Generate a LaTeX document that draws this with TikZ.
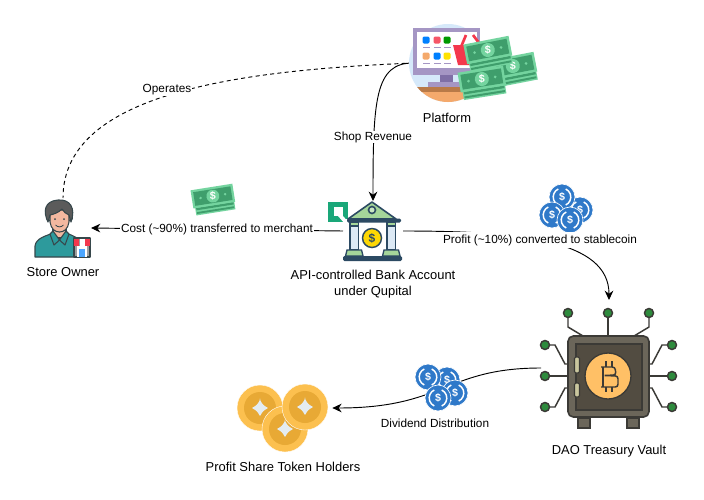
\documentclass[tikz,border=0pt]{standalone}
\usepackage{fontspec}
\setmainfont{Liberation Sans}
\usetikzlibrary{arrows.meta}
\definecolor{notedark}{HTML}{3F9E6C}
\definecolor{notelight}{HTML}{74D49F}
\definecolor{coinblue}{HTML}{2F79C9}
\definecolor{goldouter}{HTML}{FCC04F}
\definecolor{goldinner}{HTML}{E8A935}
\definecolor{goldstar}{HTML}{E4ECF1}
\definecolor{vaultline}{HTML}{3B3A36}
\definecolor{vaultbody}{HTML}{6B665A}
\definecolor{vaultin}{HTML}{524C41}
\definecolor{bitcoin}{HTML}{FFC066}
\definecolor{wiregreen}{HTML}{2E8B3D}
\definecolor{bankline}{HTML}{2C4A63}
\definecolor{bankgreen}{HTML}{A5D69A}
\definecolor{pillar}{HTML}{DCE9F5}
\definecolor{monitor}{HTML}{A596C4}
\definecolor{monitordark}{HTML}{7F6FA6}
\definecolor{backdrop}{HTML}{D6E9FA}
\definecolor{desk}{HTML}{F4A96C}
\definecolor{deskdark}{HTML}{B97A48}
\definecolor{basket}{HTML}{F4384C}
\definecolor{qugreen}{HTML}{1AA779}
\definecolor{hair}{HTML}{5B5B5B}
\definecolor{shirt}{HTML}{2D9A9C}
\definecolor{skin}{HTML}{F3B8A0}
\definecolor{outline}{HTML}{37474B}
\tikzset{
    flow/.style={-{Stealth[length=7pt,width=6.5pt]}, black, line width=0.7pt},
    iconbox/.style={inner sep=0pt, outer sep=0pt},
    caption/.style={font=\fontsize{9.7}{12}\selectfont, align=center, inner sep=0pt},
    edgetext/.style={font=\fontsize{8.85}{10}\selectfont, fill=white, inner sep=0.5pt},
    banknote/.pic={
        \fill[notelight] (-21,-4) rectangle (22,17);
        \fill[notedark] (-20,9) rectangle (21,11.5);
        \fill[notedark] (-20,13.5) rectangle (21,15.5);
        \fill[notelight] (-23,-11) rectangle (23,9);
        \fill[notedark] (-20.5,-8.5) rectangle (20.5,6.5);
        \fill[notelight] (0,-1) circle (7);
        \fill[notelight] (-13.5,-1) circle (1.5);
        \fill[notelight] (13.5,-1) circle (1.5);
        \node[text=white, font=\bfseries\fontsize{8}{8}\selectfont, inner sep=0pt] (bill) at (0,-1) {\$};
    },
    bluecoin/.pic={
        \fill[coinblue, draw=white, line width=0.5pt] (0,0) circle (13);
        \draw[white, line width=1.1pt] (115:8.8) arc (115:245:8.8);
        \draw[white, line width=1.1pt] (-65:8.8) arc (-65:65:8.8);
        \node[text=white, font=\bfseries\fontsize{8}{8}\selectfont, inner sep=0pt] (sign) at (0,0) {\$};
    },
    goldcoin/.pic={
        \fill[goldouter, draw=white, line width=0.3pt] (0,0) circle (23);
        \fill[goldinner] (0,0) circle (16);
        \fill[goldstar, rounded corners=0.8pt] (0,-8.5) .. controls (2,-4) and (4,-2) .. (8.5,0)
            .. controls (4,2) and (2,4) .. (0,8.5)
            .. controls (-2,4) and (-4,2) .. (-8.5,0)
            .. controls (-4,-2) and (-2,-4) .. (0,-8.5) -- cycle;
    },
    wire/.style={draw=vaultline, line width=1.1pt},
    wiredot/.style={fill=wiregreen, draw=vaultline, line width=1.1pt},
    lined/.style={draw=outline, line width=0.8pt, line join=round}
}
\begin{document}
\begin{tikzpicture}[x=0.75pt, y=-0.75pt]
    \useasboundingbox (0,0) rectangle (704,500);
    \fill[white] (0,0) rectangle (704,500);

    % nodes the connectors run between
    \node[iconbox, minimum width=51pt, minimum height=51pt] (platform) at (447,63) {};
    \node[iconbox, minimum width=42pt, minimum height=45pt] (owner) at (63,228) {};
    \node[iconbox, minimum width=45pt, minimum height=45pt] (bank) at (373,231) {};
    \node[iconbox, minimum width=102pt, minimum height=102pt] (vault) at (609,368) {};
    \node[iconbox, minimum width=71pt, minimum height=34pt] (holders) at (285,408) {};

    % connectors
    \draw[black, line width=0.7pt, dash pattern=on 3pt off 2.5pt] (platform.west) .. controls (250,70) and (63,90) .. (owner.north);
    \draw[flow] (platform.west) .. controls (375,63) and (373,100) .. (bank.north);
    \draw[flow] (bank.west) -- (owner.east);
    \draw[flow] (bank.east) .. controls (520,231) and (609,240) .. (vault.north);
    \draw[flow] (vault.west) .. controls (445,368) and (445,408) .. (holders.east);

    % platform
    \fill[backdrop] (448,63) circle (39);
    \begin{scope}
        \clip (448,63) circle (39);
        \fill[desk] (400,87) rectangle (500,110);
        \fill[deskdark] (400,87) rectangle (500,92);
    \end{scope}
    \fill[monitordark] (440,75) rectangle (453,82);
    \fill[monitor] (428,82) rectangle (462,87);
    \fill[monitor] (413,28) rectangle (480,75);
    \fill[white] (417,32) rectangle (477,68);
    \foreach \tx/\ty/\tc in {426/40/blue!50!cyan, 437/40/basket!85!white, 447/40/green!60!black,
        426/56/desk, 437/56/blue!50!cyan, 447/56/yellow!85!orange}{
        \fill[\tc, rounded corners=1pt] (\tx-3.5,\ty-3.5) rectangle (\tx+3.5,\ty+3.5);
        \fill[monitor] (\tx-3.5,\ty+6.5) rectangle (\tx+3.5,\ty+8);
    }
    \draw[basket, line width=2pt] (461,47) -- (466,35) (473,35) -- (479,43);
    \fill[basket] (453,45) -- (480,45) -- (476,65) -- (458,65) -- cycle;
    \pic[rotate=11] at (513,67) {banknote};
    \pic[rotate=11] at (488,51) {banknote};
    \pic[rotate=9] at (482,80) {banknote};

    % store owner
    \fill[shirt, lined] (35,257) -- (35,246) .. controls (36,238) and (46,236) .. (53,233) -- (66,233) .. controls (74,236) and (80,238) .. (84,246) -- (84,257) -- cycle;
    \fill[skin, lined] (53,226) rectangle (66,238);
    \fill[shirt, lined] (50,234) -- (53,231) -- (59.5,240) -- (54,245) -- cycle;
    \fill[shirt, lined] (69,234) -- (66,231) -- (59.5,240) -- (65,245) -- cycle;
    \fill[skin, lined] (49,218) circle (2.5) (70,218) circle (2.5);
    \fill[skin, lined] (50,210) -- (50,222) .. controls (51,229) and (55,232) .. (59.5,232) .. controls (64,232) and (68,229) .. (69,222) -- (69,210) -- cycle;
    \fill[hair, lined] (48,222) .. controls (43,212) and (44,201) .. (58,200) .. controls (70,199) and (76,208) .. (71,222) -- (69,215) .. controls (66,214) and (64,212) .. (62,209) .. controls (58,213) and (54,214) .. (50,215) -- cycle;
    \fill[outline] (55,219) circle (1) (64,219) circle (1);
    \draw[outline, line width=0.6pt] (55.5,225) .. controls (58,227.5) and (61,227.5) .. (63.5,225);
    \fill[gray!75, lined] (74,238) rectangle (90,257);
    \fill[white] (77,246) rectangle (87,257);
    \foreach \sx/\sc in {74/basket, 79.5/white, 85/basket}{
        \fill[\sc] (\sx,239) rectangle (\sx+5,246);
    }
    \fill[blue!50!cyan!70] (79,249) rectangle (85,257);

    % banknote between owner and bank
    \pic[rotate=9, scale=0.92] at (213,197) {banknote};

    % bank
    \fill[qugreen] (328,202) rectangle (348,222);
    \fill[white] (334,207) rectangle (343,216);
    \fill[white] (338,216) -- (343,216) -- (350,224) -- (350,226) -- (345,224) -- cycle;
    \fill[white] (346,219) rectangle (350,225);
    \fill[bankgreen, draw=bankline, line join=round, line width=1.2pt] (372,202) -- (396,219) -- (348,219) -- cycle;
    \fill[bankgreen!60!white, draw=bankline, line width=1.2pt] (372,210) circle (3.5);
    \fill[bankline, rounded corners=1pt] (347,218.5) rectangle (401,222.5);
    \foreach \bx in {350,387}{
        \fill[pillar, draw=bankline, line width=1.2pt] (\bx,226) rectangle (\bx+8.5,250);
        \fill[bankgreen, draw=bankline, line width=1pt] (\bx,222.5) rectangle (\bx+8.5,226);
        \fill[bankgreen, draw=bankline, line width=1pt] (\bx-3,250) -- (\bx+11.5,250) -- (\bx+13,256) -- (\bx-4.5,256) -- cycle;
    }
    \fill[bankline, rounded corners=1pt] (343,256) rectangle (402,261);
    \fill[yellow!75!orange, draw=bankline, line width=1.1pt] (372,238) circle (9.5);
    \node[text=bankline, font=\bfseries\fontsize{9}{9}\selectfont, inner sep=0pt] (banksign) at (372,238) {\$};

    % stablecoins above the profit line
    \pic at (580,210) {bluecoin};
    \pic at (562,197) {bluecoin};
    \pic at (552,215) {bluecoin};
    \pic at (570,220) {bluecoin};

    % vault
    \foreach \wa/\wb/\wc in {568/568/583, 649/649/634}{
        \draw[wire] (\wa,313) -- (\wb,327) -- (\wc,336);
    }
    \draw[wire] (608,313) -- (608,336);
    \draw[wire] (545,345) -- (555,345) -- (565,364) -- (570,364);
    \draw[wire] (545,376) -- (570,376);
    \draw[wire] (545,407) -- (555,407) -- (565,388) -- (570,388);
    \draw[wire] (672,345) -- (662,345) -- (652,364) -- (648,364);
    \draw[wire] (672,376) -- (648,376);
    \draw[wire] (672,407) -- (662,407) -- (652,388) -- (648,388);
    \foreach \dx/\dy in {568/313, 608/313, 649/313, 545/345, 545/376, 545/407, 672/345, 672/376, 672/407}{
        \fill[wiredot] (\dx,\dy) circle (4.5);
    }
    \foreach \fx in {578,627}{
        \fill[vaultbody, draw=vaultline, line width=1pt] (\fx,418) rectangle (\fx+12,428);
    }
    \fill[vaultbody, draw=vaultline, line width=1.2pt, rounded corners=4pt] (568,336) rectangle (649,417);
    \fill[vaultin, draw=vaultline, line width=1.2pt] (576,344) rectangle (642,410);
    \fill[bitcoin, draw=vaultline, line width=1pt] (608,376) circle (23);
    \fill[yellow!30!gray!70, draw=vaultline, line width=0.8pt, rounded corners=1pt] (574.5,357) rectangle (579.5,373);
    \fill[yellow!30!gray!70, draw=vaultline, line width=0.8pt, rounded corners=1pt] (574.5,383) rectangle (579.5,397);
    \draw[vaultline, line width=1.1pt, rounded corners=2pt] (601,367) -- (615,367) -- (616,375) -- (603,375.5) -- (618,376) -- (618,387) -- (601,387);
    \draw[vaultline, line width=1.1pt] (603,367) -- (603,387);
    \draw[vaultline, line width=1.1pt] (606,361) -- (606,367) (612,361) -- (612,367) (606,387) -- (606,392) (612,387) -- (612,392);

    % coins of dividend
    \pic at (447,380) {bluecoin};
    \pic at (428,377) {bluecoin};
    \pic at (455,393) {bluecoin};
    \pic at (438,398) {bluecoin};

    % token holders
    \pic at (260,408) {goldcoin};
    \pic at (285,429) {goldcoin};
    \pic at (305,407) {goldcoin};

    % texts
    \node[caption] (platformlabel) at (447,118) {Platform};
    \node[caption] (ownerlabel) at (63,272) {Store Owner};
    \node[caption] (banklabel) at (373,284) {API-controlled Bank Account\\under Qupital};
    \node[caption] (vaultlabel) at (609,451) {DAO Treasury Vault};
    \node[caption] (holderslabel) at (283,467) {Profit Share Token Holders};

    \node[edgetext] (operates) at (167,90) {Operates};
    \node[edgetext] (shoprevenue) at (373,137) {Shop Revenue};
    \node[edgetext] (cost) at (217,229) {Cost (\textasciitilde90\%) transferred to merchant};
    \node[edgetext, inner ysep=2pt] (profit) at (540,240) {Profit (\textasciitilde10\%) converted to stablecoin};
    \node[edgetext] (dividend) at (435,423) {Dividend Distribution};
\end{tikzpicture}
\end{document}
